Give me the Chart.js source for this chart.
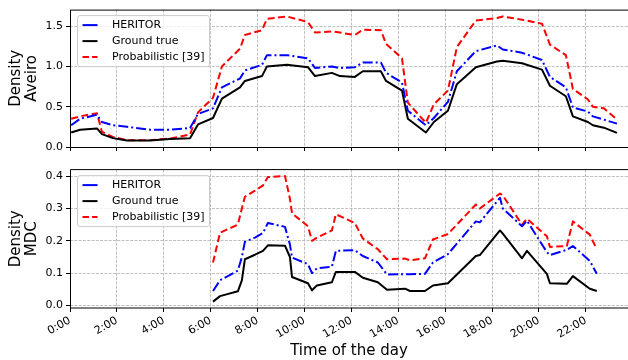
<!DOCTYPE html>
<html>
<head>
<meta charset="utf-8">
<script src="https://cdn.jsdelivr.net/npm/chart.js@4.4.1/dist/chart.umd.min.js"></script>
<style>
  html, body { margin: 0; padding: 0; background: #fff; }
  #wrap { position: relative; width: 628px; height: 360px; overflow: hidden; }
  canvas { position: absolute; left: 0; }
  #aveiro { top: 0; }
  #mdc { top: 160px; }
</style>
</head>
<body>
<div id="wrap">
  <canvas id="aveiro" width="628" height="160"></canvas>
  <canvas id="mdc" width="628" height="200"></canvas>
</div>
<script>
// time of day in hours
const aveiroHours = [0.05, 0.43, 1.15, 1.36, 1.83, 2.43, 3.41, 4.26, 5.12, 5.46, 6.10, 6.48, 7.25, 7.46, 8.19, 8.40,
  9.25, 10.15, 10.45, 11.17, 11.51, 12.15, 12.49, 13.26, 13.48, 14.16, 14.41, 15.18, 15.52, 16.12, 16.50, 17.31,
  18.21, 18.46, 19.28, 20.13, 20.47, 21.15, 21.45, 22.09, 22.30, 22.77, 23.33];
const aveiroHeritor = [0.27, 0.35, 0.40, 0.31, 0.27, 0.25, 0.215, 0.215, 0.235, 0.41, 0.48, 0.74, 0.85, 0.95, 1.02, 1.14,
  1.14, 1.10, 0.98, 1.00, 0.98, 0.99, 1.05, 1.05, 0.92, 0.80, 0.45, 0.27, 0.36, 0.56, 0.94, 1.19,
  1.26, 1.21, 1.17, 1.08, 0.87, 0.74, 0.49, 0.44, 0.38, 0.34, 0.29];
const aveiroTruth = [0.18, 0.215, 0.23, 0.16, 0.11, 0.08, 0.08, 0.10, 0.11, 0.28, 0.36, 0.60, 0.74, 0.82, 0.88, 1.00,
  1.02, 0.99, 0.88, 0.92, 0.88, 0.87, 0.94, 0.94, 0.82, 0.70, 0.35, 0.18, 0.31, 0.45, 0.78, 0.99,
  1.06, 1.07, 1.04, 0.96, 0.76, 0.63, 0.38, 0.31, 0.27, 0.24, 0.175];
const aveiroProb = [0.35, 0.38, 0.42, 0.19, 0.125, 0.085, 0.085, 0.105, 0.155, 0.43, 0.61, 1.00, 1.22, 1.39, 1.45, 1.59,
  1.62, 1.55, 1.42, 1.435, 1.42, 1.39, 1.455, 1.45, 1.28, 1.10, 0.55, 0.30, 0.53, 0.70, 1.24, 1.57,
  1.60, 1.62, 1.58, 1.53, 1.27, 1.14, 0.72, 0.59, 0.50, 0.48, 0.34];

const mdcHours = [6.10, 6.40, 7.16, 7.33, 7.46, 7.89, 8.23, 8.44, 9.17, 9.38, 9.47, 10.15, 10.32, 10.53, 11.17, 11.34,
  12.15, 12.49, 13.13, 13.52, 14.29, 14.50, 15.14, 15.48, 16.12, 17.31, 17.48, 18.34, 18.46, 19.28, 19.49, 20.34,
  20.47, 21.19, 21.45, 22.17, 22.47];
const mdcHeritor = [0.045, 0.078, 0.108, 0.15, 0.197, 0.21, 0.224, 0.255, 0.243, 0.189, 0.148, 0.128, 0.10, 0.115, 0.12, 0.169,
  0.171, 0.153, 0.133, 0.096, 0.097, 0.097, 0.098, 0.133, 0.159, 0.26, 0.257, 0.333, 0.30, 0.245, 0.262, 0.165,
  0.156, 0.172, 0.184, 0.138, 0.098];
const mdcTruth = [0.012, 0.029, 0.044, 0.078, 0.143, 0.157, 0.169, 0.186, 0.185, 0.15, 0.088, 0.069, 0.047, 0.062, 0.072, 0.104,
  0.104, 0.086, 0.072, 0.049, 0.052, 0.045, 0.045, 0.062, 0.069, 0.153, 0.156, 0.232, 0.222, 0.146, 0.169, 0.098,
  0.069, 0.067, 0.091, 0.052, 0.045];
const mdcProb = [0.133, 0.225, 0.25, 0.30, 0.336, 0.355, 0.371, 0.397, 0.40, 0.33, 0.285, 0.245, 0.20, 0.21, 0.232, 0.282,
  0.255, 0.207, 0.174, 0.143, 0.145, 0.14, 0.146, 0.204, 0.221, 0.312, 0.30, 0.346, 0.34, 0.25, 0.268, 0.214,
  0.181, 0.184, 0.26, 0.219, 0.174];

const hourTicks = [0, 2, 4, 6, 8, 10, 12, 14, 16, 18, 20, 22];
const aveiroYTicks = [0, 0.5, 1.0, 1.5];
const mdcYTicks = [0, 0.1, 0.2, 0.3, 0.4];
const seriesNames = ['HERITOR', 'Ground true', 'Probabilistic [39]'];

Chart.defaults.font.family = '"DejaVu Sans", sans-serif';
Chart.defaults.color = '#000';

// spines + boxed legend drawn inside the axes, like matplotlib
const panelDecor = {
  id: 'panelDecor',
  afterDatasetsDraw(chart, args, opts) {
    const { ctx, chartArea: a } = chart;
    const o = opts.offset;
    ctx.save();
    ctx.strokeStyle = '#000';
    ctx.lineWidth = 1;
    ctx.beginPath();
    ctx.moveTo(a.right + 2, a.top + o);
    ctx.lineTo(a.left + 0.5, a.top + o);
    ctx.lineTo(a.left + 0.5, a.bottom + o);
    ctx.lineTo(a.right + 2, a.bottom + o);
    ctx.stroke();

    // legend
    const x0 = a.left + 7.5, y0 = a.top + 6, w = 132, h = 51;
    ctx.fillStyle = 'rgba(255,255,255,0.8)';
    ctx.strokeStyle = '#cccccc';
    ctx.beginPath();
    ctx.roundRect(x0, y0, w, h, 2.5);
    ctx.fill();
    ctx.stroke();
    ctx.font = '11px "DejaVu Sans"';
    ctx.textBaseline = 'middle';
    chart.data.datasets.forEach((ds, i) => {
      const cy = y0 + 9.5 + i * 16;
      ctx.strokeStyle = ds.borderColor;
      ctx.lineWidth = ds.borderWidth;
      ctx.setLineDash(ds.legendDash || []);
      ctx.beginPath();
      ctx.moveTo(x0 + 5, cy);
      ctx.lineTo(x0 + 20, cy);
      ctx.stroke();
      ctx.setLineDash([]);
      ctx.fillStyle = '#000';
      ctx.fillText(ds.label, x0 + 34.5, cy);
    });
    ctx.restore();
  }
};

function series(hours, values) {
  return hours.map((h, i) => ({ x: h, y: values[i] }));
}

function makePanel(id, hours, heritor, truth, prob, yMin, yMax, yTicks, yTitle, isBottom) {
  const line = { pointRadius: 0, borderWidth: 2, tension: 0, fill: false, borderJoinStyle: 'round' };
  new Chart(document.getElementById(id), {
    type: 'line',
    data: {
      datasets: [
        Object.assign({ label: seriesNames[0], data: series(hours, heritor), borderColor: '#0000ff',
          borderDash: [10, 3, 2, 3], legendDash: [15, 5] }, line),
        Object.assign({ label: seriesNames[1], data: series(hours, truth), borderColor: '#000000' }, line),
        Object.assign({ label: seriesNames[2], data: series(hours, prob), borderColor: '#ff0000',
          borderDash: [7, 3.5], legendDash: [6.5, 3] }, line)
      ]
    },
    options: {
      responsive: false,
      animation: false,
      devicePixelRatio: 1,
      layout: { padding: { top: 7, left: 0, right: 0, bottom: 0 } },
      plugins: {
        legend: { display: false },
        tooltip: { enabled: false },
        panelDecor: { offset: isBottom ? 0 : 0.5 }
      },
      scales: {
        x: {
          type: 'linear',
          min: 0,
          max: 23.8,
          afterBuildTicks: s => { s.ticks = hourTicks.map(v => ({ value: v })); },
          afterFit: s => { s.height = isBottom ? 52 : 13; },
          grid: { color: '#b0b0b0', lineWidth: 0.8, tickColor: '#000', tickLength: 4, tickWidth: 1, tickBorderDash: [] },
          border: { display: false, dash: [3, 1.3] },
          ticks: {
            display: isBottom,
            autoSkip: false,
            minRotation: 30,
            maxRotation: 30,
            padding: 2,
            font: { size: 11 },
            callback: v => v + ':00'
          },
          title: {
            display: isBottom,
            text: 'Time of the day',
            font: { size: 15 },
            padding: { top: 0, bottom: 0 }
          }
        },
        y: {
          min: yMin,
          max: yMax,
          afterBuildTicks: s => { s.ticks = yTicks.map(v => ({ value: v })); },
          afterFit: s => { s.width = 70; },
          grid: { color: '#b0b0b0', lineWidth: 0.8, tickColor: '#000', tickLength: 4, tickWidth: 1, tickBorderDash: [] },
          border: { display: false, dash: [3, 1.3] },
          ticks: { padding: 3, font: { size: 11 }, callback: v => v.toFixed(1) },
          title: {
            display: true,
            text: yTitle,
            font: { size: 15, lineHeight: 1.1 },
            padding: { top: 7.5, bottom: 0 }
          }
        }
      }
    },
    plugins: [panelDecor]
  });
}

makePanel('aveiro', aveiroHours, aveiroHeritor, aveiroTruth, aveiroProb, 0, 1.705, aveiroYTicks, ['Density', 'Aveiro'], false);
makePanel('mdc', mdcHours, mdcHeritor, mdcTruth, mdcProb, -0.0076, 0.42, mdcYTicks, ['Density', 'MDC'], true);
</script>
</body>
</html>
